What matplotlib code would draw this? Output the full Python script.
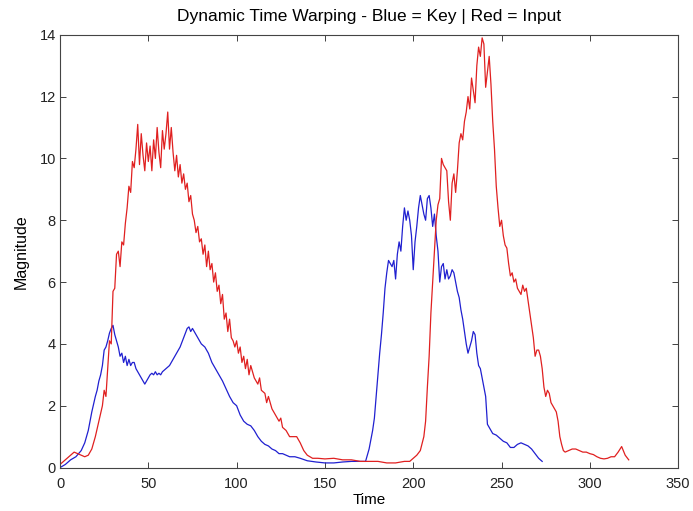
import matplotlib
matplotlib.use("Agg")
import matplotlib.pyplot as plt

# key signal (blue)
key_t = [0, 3, 6, 9, 12, 14, 16, 18, 20, 21, 22, 23, 24, 25, 26, 27, 28, 29, 30, 31,
         32, 33, 34, 35, 36, 37, 38, 39, 40, 41, 42, 43, 44, 45, 46, 47, 48, 49, 50, 51,
         52, 53, 54, 55, 56, 57, 58, 60, 62, 64, 66, 68, 70, 72, 73, 74, 75, 76, 78, 80,
         82, 84, 86, 88, 90, 92, 94, 96, 98, 100, 102, 104, 106, 108, 110, 112, 114, 116, 118, 120,
         122, 124, 126, 128, 130, 133, 136, 140, 145, 150, 155, 160, 165, 170, 173, 175, 177, 178, 179, 180,
         181, 182, 183, 184, 185, 186, 187, 188, 189, 190, 191, 192, 193, 194, 195, 196, 197, 198, 199, 200,
         201, 202, 203, 204, 205, 206, 207, 208, 209, 210, 211, 212, 213, 214, 215, 216, 217, 218, 219, 220,
         221, 222, 223, 224, 225, 226, 227, 228, 229, 230, 231, 232, 233, 234, 235, 236, 237, 238, 239, 240,
         241, 242, 243, 245, 247, 249, 251, 253, 255, 257, 259, 261, 263, 265, 267, 269, 271, 273]
key_v = [0.0, 0.1, 0.25, 0.35, 0.55, 0.8, 1.2, 1.8, 2.3, 2.5, 2.8, 3.0, 3.3, 3.8, 3.9, 4.1, 4.35, 4.5, 4.6, 4.3,
         4.1, 3.9, 3.6, 3.7, 3.4, 3.6, 3.3, 3.5, 3.3, 3.4, 3.4, 3.2, 3.1, 3.0, 2.9, 2.8, 2.7, 2.8, 2.9, 3.0,
         3.05, 3.0, 3.1, 3.0, 3.05, 3.0, 3.1, 3.2, 3.3, 3.5, 3.7, 3.9, 4.2, 4.5, 4.55, 4.4, 4.5, 4.4, 4.2, 4.0,
         3.9, 3.7, 3.4, 3.2, 3.0, 2.8, 2.55, 2.3, 2.1, 2.0, 1.7, 1.5, 1.4, 1.35, 1.2, 1.0, 0.85, 0.75, 0.7, 0.6,
         0.55, 0.45, 0.45, 0.4, 0.35, 0.35, 0.3, 0.22, 0.18, 0.15, 0.15, 0.18, 0.2, 0.2, 0.2, 0.6, 1.2, 1.6, 2.3, 3.0,
         3.7, 4.3, 5.0, 5.8, 6.3, 6.7, 6.6, 6.5, 6.7, 6.1, 6.9, 7.3, 7.0, 7.8, 8.4, 8.0, 8.3, 8.0, 7.5, 6.4,
         7.3, 7.8, 8.4, 8.8, 8.5, 8.2, 8.0, 8.7, 8.8, 8.4, 7.8, 8.2, 7.5, 7.0, 6.0, 6.5, 6.6, 6.1, 6.4, 6.1,
         6.2, 6.4, 6.3, 6.0, 5.7, 5.5, 5.1, 4.8, 4.4, 4.0, 3.7, 3.9, 4.1, 4.4, 4.3, 3.7, 3.3, 3.2, 2.9, 2.6,
         2.3, 1.4, 1.3, 1.1, 1.05, 0.95, 0.85, 0.8, 0.65, 0.65, 0.75, 0.8, 0.75, 0.7, 0.6, 0.45, 0.3, 0.2]

# input signal (red)
inp_t = [0, 2, 4, 6, 8, 10, 12, 14, 16, 18, 20, 22, 24, 25, 26, 27, 28, 29, 30, 31,
         32, 33, 34, 35, 36, 37, 38, 39, 40, 41, 42, 43, 44, 45, 46, 47, 48, 49, 50, 51,
         52, 53, 54, 55, 56, 57, 58, 59, 60, 61, 62, 63, 64, 65, 66, 67, 68, 69, 70, 71,
         72, 73, 74, 75, 76, 77, 78, 79, 80, 81, 82, 83, 84, 85, 86, 87, 88, 89, 90, 91,
         92, 93, 94, 95, 96, 97, 98, 99, 100, 101, 102, 103, 104, 105, 106, 107, 108, 109, 110, 112,
         113, 114, 116, 117, 118, 120, 122, 124, 125, 126, 128, 130, 132, 134, 136, 138, 140, 143, 146, 150,
         155, 160, 165, 170, 175, 180, 185, 190, 195, 198, 200, 202, 204, 206, 207, 208, 209, 210, 211, 212,
         213, 214, 215, 216, 217, 218, 219, 220, 221, 222, 223, 224, 225, 226, 227, 228, 229, 230, 231, 232,
         233, 234, 235, 236, 237, 238, 239, 240, 241, 242, 243, 244, 245, 246, 247, 248, 249, 250, 251, 252,
         253, 254, 255, 256, 257, 258, 259, 260, 261, 262, 263, 264, 265, 266, 267, 268, 269, 270, 271, 272,
         273, 274, 275, 276, 277, 278, 279, 280, 281, 282, 283, 284, 285, 286, 288, 290, 292, 294, 296, 298,
         300, 302, 304, 306, 308, 310, 312, 314, 316, 318, 320, 322]
inp_v = [0.1, 0.2, 0.3, 0.4, 0.5, 0.45, 0.4, 0.35, 0.4, 0.6, 1.0, 1.5, 2.0, 2.5, 2.3, 3.2, 4.1, 4.0, 5.7, 5.8,
         6.9, 7.0, 6.5, 7.3, 7.2, 7.9, 8.4, 9.1, 8.9, 9.9, 9.7, 10.3, 11.1, 9.8, 10.8, 10.1, 9.6, 10.5, 9.9, 10.4,
         9.6, 10.6, 10.0, 11.0, 10.2, 9.7, 10.9, 10.3, 10.8, 11.5, 10.3, 11.0, 10.2, 9.6, 10.1, 9.4, 9.8, 9.2, 9.5, 9.0,
         9.2, 8.6, 8.8, 8.2, 8.0, 7.6, 7.8, 7.3, 7.4, 6.9, 7.2, 6.5, 7.0, 6.4, 6.6, 6.0, 6.3, 5.7, 5.9, 5.3,
         5.6, 4.8, 5.0, 4.4, 4.8, 4.2, 4.1, 3.9, 4.1, 3.7, 3.9, 3.4, 3.6, 3.2, 3.5, 3.0, 3.3, 3.1, 2.9, 2.7,
         2.9, 2.5, 2.4, 2.1, 2.3, 1.9, 1.7, 1.5, 1.6, 1.3, 1.2, 1.0, 1.0, 1.0, 0.8, 0.55, 0.4, 0.3, 0.3, 0.28,
         0.3, 0.25, 0.25, 0.2, 0.2, 0.2, 0.15, 0.15, 0.2, 0.2, 0.3, 0.4, 0.55, 1.0, 1.5, 2.6, 3.6, 5.0, 6.0, 7.0,
         8.0, 8.5, 8.7, 10.0, 9.8, 9.7, 9.6, 8.6, 8.0, 9.2, 9.5, 8.9, 9.6, 10.5, 10.8, 10.6, 11.2, 11.5, 12.0, 11.6,
         12.6, 12.2, 11.8, 13.0, 13.6, 13.3, 13.9, 13.7, 12.3, 12.8, 13.3, 12.4, 11.2, 10.3, 9.1, 8.4, 7.8, 8.0, 7.5, 7.2,
         7.1, 6.6, 6.2, 6.3, 6.0, 6.1, 5.8, 5.7, 5.6, 5.9, 5.7, 5.8, 5.4, 5.0, 4.6, 4.2, 3.6, 3.8, 3.8, 3.6,
         3.2, 2.6, 2.3, 2.5, 2.4, 2.1, 2.0, 1.9, 1.8, 1.5, 1.0, 0.75, 0.55, 0.5, 0.55, 0.6, 0.6, 0.55, 0.5, 0.5,
         0.45, 0.42, 0.35, 0.3, 0.28, 0.3, 0.35, 0.35, 0.5, 0.68, 0.4, 0.25]

plt.rcParams['font.family'] = ['Liberation Sans', 'DejaVu Sans']

fig = plt.figure(figsize=(6.93, 5.11), dpi=100)
ax = fig.add_axes([0.0866, 0.085, 0.892, 0.847])

ax.plot(key_t, key_v, color="#2020d0", linewidth=0.9)
ax.plot(inp_t, inp_v, color="#e02020", linewidth=0.9)

ax.set_xlim(0, 350)
ax.set_ylim(0, 14)
ax.set_xticks(range(0, 351, 50))
ax.set_yticks(range(0, 15, 2))
ax.tick_params(direction="in", top=True, right=True, labelsize=10.5, length=4, width=0.6,
               colors="#222222")
ax.tick_params(axis="x", pad=7)
ax.tick_params(axis="y", pad=3)
for s in ax.spines.values():
    s.set_linewidth(0.8)
    s.set_color("#444444")

ax.set_title("Dynamic Time Warping - Blue = Key | Red = Input", fontsize=12.5, pad=10)
ax.set_xlabel("Time", fontsize=11, labelpad=1.5)
ax.set_ylabel("Magnitude", fontsize=11.5, labelpad=7.5)

fig.savefig("out.png", dpi=100)
